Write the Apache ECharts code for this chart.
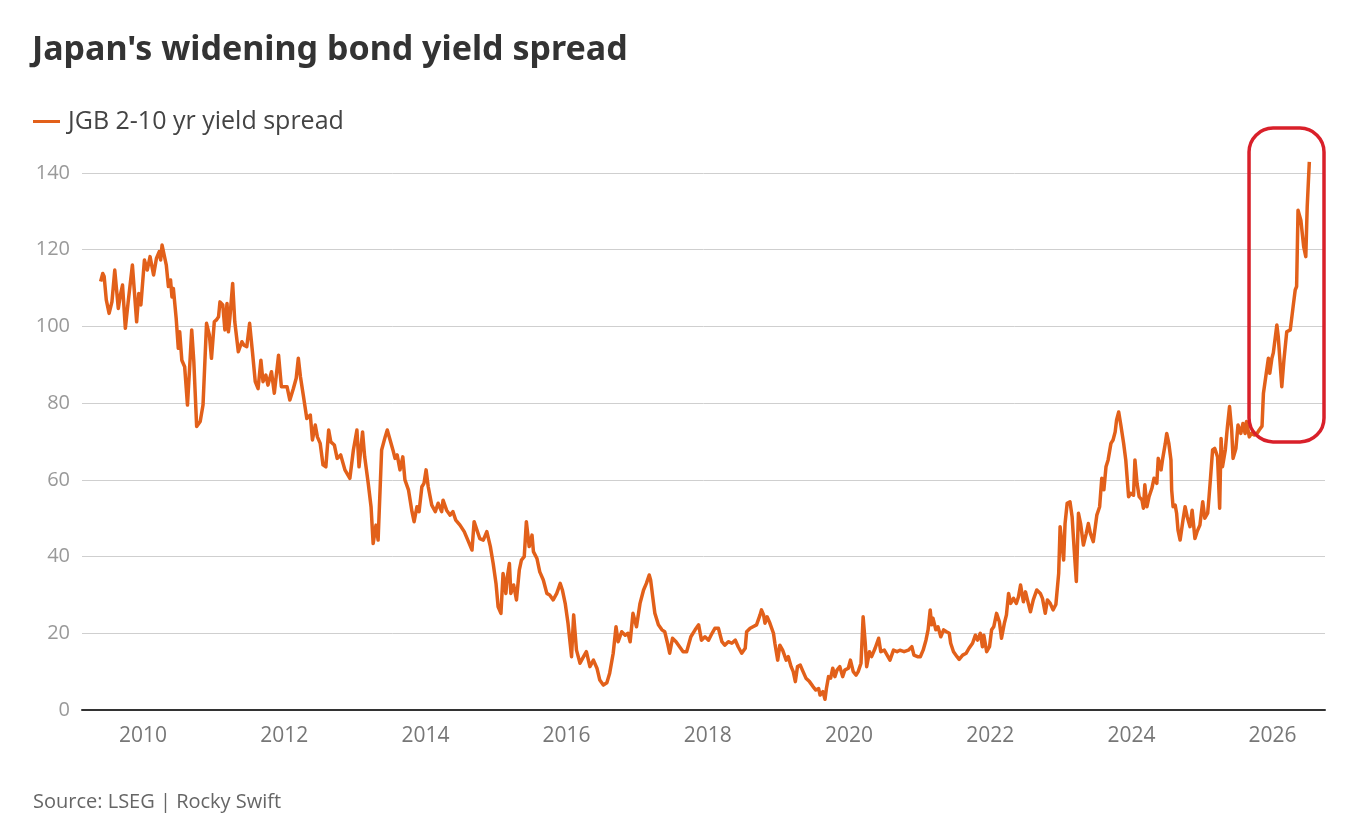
<!DOCTYPE html>
<html>
<head>
<meta charset="utf-8">
<title>Japan's widening bond yield spread</title>
<script src="https://cdn.jsdelivr.net/npm/echarts@6/dist/echarts.min.js"></script>
<style>
  html, body { margin: 0; padding: 0; background: #fff; }
  #chart { width: 1367px; height: 832px; }
</style>
</head>
<body>
<div id="chart"></div>
<script>
// JGB 2-10 yr spread (bp), [decimal year, value]
var spread2009to2011 = [
  [2009.40, 111.7], [2009.43, 113.8], [2009.45, 113], [2009.48, 106.9], [2009.52, 103.4],
  [2009.56, 106.4], [2009.60, 114.7], [2009.65, 104.7], [2009.68, 108.2], [2009.71, 110.8],
  [2009.75, 99.5], [2009.79, 106.4], [2009.85, 116], [2009.91, 101.2], [2009.94, 108.6],
  [2009.97, 105.6], [2010.02, 117.3], [2010.06, 114.7], [2010.10, 118.2], [2010.15, 113.4],
  [2010.19, 117.7], [2010.23, 119.5], [2010.25, 117.3], [2010.27, 121.2], [2010.33, 116],
  [2010.36, 110.4], [2010.39, 112.1], [2010.41, 107.7], [2010.43, 109.9], [2010.47, 102.1],
  [2010.50, 94.3], [2010.52, 98.6], [2010.55, 91.2], [2010.59, 89.5], [2010.63, 79.5],
  [2010.66, 89.1], [2010.69, 99.1], [2010.72, 90.8], [2010.76, 73.9], [2010.81, 75.2],
  [2010.85, 79.5], [2010.90, 100.8], [2010.94, 97.8], [2010.97, 91.7], [2011.01, 101.2],
  [2011.04, 101.7], [2011.07, 102.5], [2011.09, 106.4], [2011.13, 105.6], [2011.16, 99.1],
  [2011.19, 106], [2011.21, 98.6], [2011.23, 102.1], [2011.27, 111.2], [2011.30, 101.2],
  [2011.35, 93.4], [2011.40, 96], [2011.43, 95.1], [2011.47, 94.7], [2011.51, 100.8],
  [2011.55, 93.4], [2011.59, 85.6], [2011.63, 83.8], [2011.67, 91.2], [2011.70, 85.6],
  [2011.74, 87.3], [2011.77, 84.7], [2011.82, 88.2], [2011.86, 82.6], [2011.92, 92.5],
  [2011.96, 84.3]
];
var spread2012to2014 = [
  [2012.04, 84.3], [2012.08, 80.8], [2012.13, 83.8], [2012.17, 86.5], [2012.20, 91.7],
  [2012.23, 86.9], [2012.27, 82.1], [2012.32, 76], [2012.37, 76.9], [2012.40, 70.4],
  [2012.44, 74.3], [2012.47, 71.2], [2012.51, 69.5], [2012.55, 63.9], [2012.59, 63.4],
  [2012.63, 73], [2012.66, 69.9], [2012.71, 69.1], [2012.75, 65.6], [2012.80, 66.5],
  [2012.86, 62.6], [2012.93, 60.4], [2012.98, 67.8], [2013.03, 73], [2013.06, 63.4],
  [2013.11, 72.5], [2013.14, 66], [2013.19, 59.1], [2013.23, 53], [2013.26, 43.4],
  [2013.30, 48.2], [2013.33, 44.3], [2013.38, 67.8], [2013.43, 71.2], [2013.46, 73],
  [2013.50, 70.4], [2013.54, 67.8], [2013.57, 65.6], [2013.60, 66.5], [2013.64, 62.6],
  [2013.68, 66], [2013.71, 60], [2013.76, 57.4], [2013.81, 51.7], [2013.84, 49.1],
  [2013.88, 53], [2013.91, 51.7], [2013.95, 58.2], [2013.98, 59.1], [2014.01, 62.6],
  [2014.04, 58.2], [2014.09, 53.4], [2014.14, 51.7], [2014.18, 53.9], [2014.23, 51.7],
  [2014.25, 54.7], [2014.30, 52.1], [2014.35, 50.8], [2014.39, 51.7], [2014.43, 49.5],
  [2014.49, 48.2], [2014.55, 46.5], [2014.61, 43.9], [2014.66, 41.7], [2014.69, 49.1],
  [2014.73, 46.9], [2014.77, 44.7], [2014.82, 44.3], [2014.87, 46.5], [2014.92, 42.6],
  [2014.96, 38.2]
];
var spread2015to2017 = [
  [2015.00, 33], [2015.03, 26.9], [2015.07, 25.2], [2015.10, 35.6], [2015.14, 30.4],
  [2015.16, 34.7], [2015.19, 38.2], [2015.21, 30.4], [2015.25, 32.6], [2015.29, 28.7],
  [2015.33, 36.5], [2015.36, 39.1], [2015.40, 40], [2015.43, 49.1], [2015.47, 42.6],
  [2015.51, 45.6], [2015.53, 41.3], [2015.58, 39.5], [2015.62, 36], [2015.67, 33.9],
  [2015.72, 30.4], [2015.76, 30], [2015.81, 28.7], [2015.86, 30.4], [2015.91, 33],
  [2015.94, 31.3], [2015.98, 27.8], [2016.02, 22.6], [2016.07, 13.9], [2016.10, 24.8],
  [2016.14, 15.6], [2016.19, 12.2], [2016.24, 13.9], [2016.28, 15.2], [2016.33, 11.3],
  [2016.38, 13], [2016.43, 10.9], [2016.47, 7.8], [2016.52, 6.5], [2016.57, 7.1],
  [2016.61, 9.6], [2016.66, 14.8], [2016.70, 21.7], [2016.73, 17.8], [2016.78, 20.4],
  [2016.83, 19.5], [2016.87, 20], [2016.90, 17.8], [2016.94, 25.2], [2016.99, 21.7],
  [2017.04, 27.8], [2017.09, 31.3], [2017.13, 33], [2017.17, 35.2], [2017.19, 33.9],
  [2017.22, 29.5], [2017.25, 25.2], [2017.30, 22.2], [2017.35, 20.9], [2017.39, 20.4],
  [2017.43, 17.4], [2017.46, 14.8], [2017.50, 18.7], [2017.55, 17.8], [2017.60, 16.5],
  [2017.65, 15.2], [2017.70, 15.2], [2017.76, 19.1], [2017.82, 20.9], [2017.87, 22.2],
  [2017.91, 18.2], [2017.96, 19.1]
];
var spread2018to2020 = [
  [2018.01, 18.2], [2018.06, 20], [2018.10, 21.3], [2018.15, 21.3], [2018.20, 17.8],
  [2018.24, 16.9], [2018.29, 17.8], [2018.34, 17.4], [2018.39, 18.2], [2018.43, 16.5],
  [2018.48, 14.8], [2018.53, 16.1], [2018.55, 20.4], [2018.60, 21.3], [2018.64, 21.7],
  [2018.69, 22.2], [2018.74, 24.8], [2018.76, 26.1], [2018.79, 24.8], [2018.81, 22.6],
  [2018.84, 24.3], [2018.88, 22.6], [2018.93, 20], [2018.95, 17.4], [2018.99, 13],
  [2019.02, 16.9], [2019.06, 15.6], [2019.11, 13], [2019.14, 13.9], [2019.18, 11.3],
  [2019.21, 10], [2019.24, 7.4], [2019.27, 11.3], [2019.31, 11.7], [2019.34, 10.4],
  [2019.39, 8.3], [2019.44, 7.4], [2019.49, 6.1], [2019.53, 5.2], [2019.57, 5.6],
  [2019.59, 3.9], [2019.63, 4.8], [2019.66, 2.8], [2019.68, 5.6], [2019.71, 8.7],
  [2019.74, 8.3], [2019.77, 10.9], [2019.80, 8.7], [2019.83, 10.4], [2019.87, 11.3],
  [2019.91, 8.7], [2019.94, 10.4], [2019.99, 10.9], [2020.02, 13], [2020.06, 10],
  [2020.10, 9.1], [2020.13, 10], [2020.17, 12.2], [2020.20, 24.3], [2020.23, 17.4],
  [2020.25, 11.3], [2020.29, 15.2], [2020.32, 13.9], [2020.37, 16.1], [2020.42, 18.7],
  [2020.45, 15.2], [2020.50, 15.6], [2020.54, 14.3], [2020.58, 13], [2020.63, 15.6],
  [2020.68, 15.2], [2020.72, 15.6], [2020.78, 15.2], [2020.84, 15.6], [2020.89, 16.5],
  [2020.92, 14.3], [2020.97, 13.9]
];
var spread2021to2023 = [
  [2021.01, 13.9], [2021.05, 15.6], [2021.09, 18.2], [2021.12, 20.9], [2021.15, 26.1],
  [2021.17, 22.2], [2021.19, 23.9], [2021.23, 20.9], [2021.26, 21.7], [2021.30, 19.1],
  [2021.34, 20.9], [2021.38, 20.4], [2021.42, 20], [2021.44, 17.4], [2021.48, 15.2],
  [2021.53, 13.9], [2021.56, 13.2], [2021.61, 14.3], [2021.66, 14.8], [2021.70, 16.1],
  [2021.75, 17.4], [2021.79, 19.5], [2021.82, 18.2], [2021.86, 20], [2021.89, 16.5],
  [2021.91, 19.5], [2021.95, 15.2], [2021.99, 16.5], [2022.02, 20.9], [2022.05, 21.7],
  [2022.09, 25.2], [2022.13, 23], [2022.16, 18.7], [2022.20, 22.6], [2022.23, 24.8],
  [2022.26, 30.4], [2022.29, 27.8], [2022.33, 29.1], [2022.37, 27.8], [2022.40, 29.5],
  [2022.43, 32.6], [2022.47, 28.2], [2022.50, 30.8], [2022.54, 27.8], [2022.57, 25.6],
  [2022.61, 28.7], [2022.66, 31.3], [2022.71, 30.4], [2022.74, 29.1], [2022.78, 25.2],
  [2022.81, 28.7], [2022.85, 27.8], [2022.89, 26.1], [2022.93, 27.5], [2022.97, 35.6],
  [2022.99, 47.8], [2023.01, 44.3], [2023.04, 39.1], [2023.06, 48.6], [2023.09, 53.9],
  [2023.13, 54.3], [2023.16, 50.4], [2023.19, 41.7], [2023.22, 33.5], [2023.25, 51.3],
  [2023.28, 48.6], [2023.32, 43], [2023.36, 46], [2023.39, 48.6], [2023.42, 46],
  [2023.46, 43.9], [2023.51, 50.8], [2023.55, 53], [2023.58, 60.4], [2023.61, 57.4],
  [2023.64, 63.4], [2023.67, 65.2], [2023.71, 69.5], [2023.74, 70.4], [2023.77, 72.5],
  [2023.79, 75.6], [2023.82, 77.7], [2023.85, 74.3], [2023.89, 69.5], [2023.92, 65.2],
  [2023.96, 55.6], [2023.99, 56.5]
];
var spread2024to2026 = [
  [2024.03, 56], [2024.05, 65.2], [2024.08, 59.1], [2024.11, 55.6], [2024.15, 54.7],
  [2024.17, 52.6], [2024.19, 58.7], [2024.22, 53], [2024.25, 55.6], [2024.29, 57.8],
  [2024.32, 60.4], [2024.36, 59.1], [2024.38, 65.6], [2024.42, 62.6], [2024.44, 65.2],
  [2024.48, 69.5], [2024.50, 72.1], [2024.53, 69.5], [2024.56, 65.2], [2024.57, 57.4],
  [2024.59, 53], [2024.62, 53.4], [2024.64, 51.3], [2024.66, 46.9], [2024.69, 44.3],
  [2024.73, 49.5], [2024.76, 53], [2024.79, 50.4], [2024.83, 47.8], [2024.86, 52.1],
  [2024.90, 44.7], [2024.93, 46.5], [2024.97, 48.2], [2025.01, 54.3], [2025.04, 50],
  [2025.08, 51.3], [2025.10, 55.6], [2025.12, 60.4], [2025.15, 67.8], [2025.18, 68.2],
  [2025.22, 66], [2025.25, 52.6], [2025.27, 70.8], [2025.29, 63.4], [2025.33, 67.8],
  [2025.36, 73.9], [2025.39, 79.1], [2025.42, 73], [2025.44, 65.6], [2025.48, 68.2],
  [2025.51, 74.3], [2025.55, 72.1], [2025.58, 74.7], [2025.61, 72.1], [2025.63, 75.2],
  [2025.67, 71.2], [2025.70, 72.1], [2025.74, 71.7], [2025.78, 72.1], [2025.81, 73],
  [2025.85, 74], [2025.87, 82.6], [2025.91, 87.8], [2025.94, 91.7], [2025.96, 87.8],
  [2025.99, 91.7], [2026.01, 93.1], [2026.06, 100.4], [2026.08, 97.3], [2026.13, 84.3],
  [2026.16, 91.2], [2026.20, 98.6], [2026.25, 99.1], [2026.29, 105.1], [2026.32, 109.5],
  [2026.34, 110.4], [2026.36, 130.3], [2026.40, 127.7], [2026.44, 120.8], [2026.47, 118.2],
  [2026.49, 131.2], [2026.52, 142.9]
];

var yearTicks = [2010, 2012, 2014, 2016, 2018, 2020, 2022, 2024, 2026];
// highlight box round the latest surge, in data units: [x0, y0], [x1, y1]
var boxFrom = [2025.666, 151.7];
var boxTo = [2026.728, 69.9];

var spreadData = [].concat(spread2009to2011, spread2012to2014, spread2015to2017,
  spread2018to2020, spread2021to2023, spread2024to2026);

var lineColor = '#E2601A';
var chart = echarts.init(document.getElementById('chart'));

var option = {
  animation: false,
  backgroundColor: '#fff',
  textStyle: { fontFamily: 'Open Sans' },
  title: [
    {
      text: "Japan's widening bond yield spread",
      left: 32,
      top: 33,
      padding: 0,
      textStyle: { fontFamily: 'Noto Sans', fontWeight: 'bold', fontSize: 34, color: '#333' }
    },
    {
      text: 'Source: LSEG | Rocky Swift',
      left: 33,
      top: 792,
      padding: 0,
      textStyle: { fontFamily: 'Open Sans', fontWeight: 'normal', fontSize: 20, color: '#666' }
    }
  ],
  legend: {
    left: 33,
    top: 109,
    padding: 0,
    icon: 'rect',
    itemWidth: 27,
    itemHeight: 3,
    textStyle: { fontFamily: 'Open Sans', fontSize: 25, color: '#444', padding: [0, 0, 0, 3] },
    data: ['JGB 2-10 yr yield spread']
  },
  grid: {
    left: 82,
    right: 42,
    top: 173,
    bottom: 122,
    containLabel: false,
    outerBoundsMode: 'none'
  },
  xAxis: {
    type: 'value',
    min: 2009.136,
    max: 2026.742,
    axisLine: { show: true, lineStyle: { color: '#333', width: 2 } },
    axisTick: { show: false },
    splitLine: { show: false },
    axisLabel: {
      customValues: yearTicks,
      formatter: function (v) { return String(v) },
      color: '#777',
      fontSize: 21,
      margin: 16
    }
  },
  yAxis: {
    type: 'value',
    min: 0,
    max: 140,
    interval: 20,
    axisLine: { show: false },
    axisTick: { show: false },
    splitLine: { lineStyle: { color: '#cfcfcf', width: 1 } },
    axisLabel: { color: '#999', fontSize: 20, margin: 12 }
  },
  series: [
    {
      name: 'JGB 2-10 yr yield spread',
      type: 'line',
      data: spreadData,
      showSymbol: false,
      clip: false,
      color: lineColor,
      lineStyle: { width: 3.5, color: lineColor, join: 'round' }
    }
  ]
};
chart.setOption(option);

// place the red rounded box from data coordinates
var p0 = chart.convertToPixel({ gridIndex: 0 }, boxFrom);
var p1 = chart.convertToPixel({ gridIndex: 0 }, boxTo);
chart.setOption({
  graphic: [
    {
      type: 'rect',
      z: 100,
      shape: { x: p0[0], y: p0[1], width: p1[0] - p0[0], height: p1[1] - p0[1], r: 24 },
      style: { fill: 'none', stroke: '#D9202A', lineWidth: 3.5 }
    }
  ]
});
</script>
</body>
</html>
